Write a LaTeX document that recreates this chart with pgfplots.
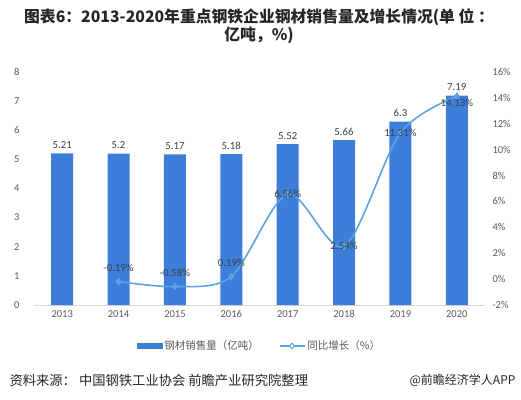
\documentclass[border=0pt]{standalone}
\usepackage{pgfplots}
\pgfplotsset{compat=1.18}
\usepackage{fontspec}
\setmainfont{Carlito}
\newfontfamily\cjk{Noto Sans CJK SC}
\definecolor{barblue}{HTML}{3D7EDB}
\definecolor{lineblue}{HTML}{5BA3E0}
\definecolor{ticktxt}{HTML}{595959}
\definecolor{lbltxt}{HTML}{404040}
\begin{document}
\begin{tikzpicture}[x=1pt,y=1pt]
\useasboundingbox (0,0) rectangle (521,399);
\node[align=center, font=\cjk\bfseries\fontsize{15.8}{18}\selectfont, text=black!85] at (259,373)
 {图表6：2013-2020年重点钢铁企业钢材销售量及增长情况(单 位 ：\\亿吨，\%)};
\node[anchor=west, font=\cjk\fontsize{13.3}{15}\selectfont, text=black!85] at (6,19) {资料来源： 中国钢铁工业协会 前瞻产业研究院整理};
\node[anchor=east, font=\cjk\fontsize{12}{14}\selectfont, text=black!85] at (519,19) {@前瞻经济学人APP};
\begin{axis}[at={(34pt,94pt)}, anchor=south west, scale only axis, width=451pt, height=233pt,
  xmin=-0.5, xmax=7.5, ymin=0, ymax=8, ytick={0,...,8}, xtick={0,...,7},
  xticklabels={2013,2014,2015,2016,2017,2018,2019,2020},
  axis x line*=bottom, axis y line*=left,
  x axis line style={draw=black!15,-}, y axis line style={draw=none},
  major tick length=0pt, tick style={draw=none},
  /pgf/number format/assume math mode=true,
  tick label style={font=\fontsize{10.5}{12}\selectfont, text=ticktxt},
  yticklabel style={xshift=-11pt},
  xticklabel style={yshift=-2pt},
  ]
\addplot[ybar, bar width=22pt, fill=barblue, draw=none,
  nodes near coords, nodes near coords style={font=\fontsize{10.8}{12}\selectfont, text=lbltxt, yshift=1pt}]
  coordinates {(0,5.21) (1,5.2) (2,5.17) (3,5.18) (4,5.52) (5,5.66) (6,6.3) (7,7.19)};
\end{axis}
\begin{axis}[at={(34pt,94pt)}, anchor=south west, scale only axis, width=451pt, height=233pt,
  xmin=-0.5, xmax=7.5, ymin=-2, ymax=16, ytick={-2,0,...,16},
  yticklabel={\pgfmathprintnumber{\tick}\%},
  axis y line*=right, axis x line=none, y axis line style={draw=none},
  major tick length=0pt, tick style={draw=none},
  /pgf/number format/assume math mode=true,
  tick label style={font=\fontsize{10.5}{12}\selectfont, text=ticktxt},
  yticklabel style={xshift=4pt},
  legend style={at={(0.5,-0.135)}, anchor=north, draw=none, fill=none,
    legend columns=2, font=\cjk\fontsize{10.5}{12}\selectfont, text=ticktxt,
    /tikz/every even column/.append style={column sep=18pt}},
  ]
\addlegendimage{legend image code/.code={\fill[barblue] (0pt,-2.5pt) rectangle (25pt,2.5pt);}}
\addlegendentry{钢材销售量（亿吨）}
\addplot[lineblue, line width=1.6pt, smooth, tension=0.5, mark=diamond*, mark size=2.6pt,
  mark options={fill=lineblue, solid},
  legend image code/.code={\draw[lineblue, line width=1.6pt] (0pt,0pt) -- (25pt,0pt);
    \draw[lineblue, line width=1pt, fill=white] (12.5pt,2.8pt) -- (10pt,0pt) -- (12.5pt,-2.8pt) -- (15pt,0pt) -- cycle;}]
  coordinates {(1,-0.19) (2,-0.58) (3,0.19) (4,6.56) (5,2.54) (6,11.31) (7,14.13)};
\addlegendentry{同比增长（\%）}
\addplot[draw=none, point meta=explicit symbolic, nodes near coords={\pgfplotspointmeta\%},
  nodes near coords style={font=\fontsize{10.8}{12}\selectfont, text=lbltxt, anchor=center, yshift=14pt}]
  coordinates {(1,-0.19) [-0.19] (2,-0.58) [-0.58] (3,0.19) [0.19]};
\addplot[draw=none, point meta=explicit symbolic, nodes near coords={\pgfplotspointmeta\%},
  nodes near coords style={font=\fontsize{10.8}{12}\selectfont, text=lbltxt, anchor=center}]
  coordinates {(4,6.56) [6.56] (5,2.54) [2.54] (6,11.31) [11.31]};
\addplot[draw=none, point meta=explicit symbolic, nodes near coords={\pgfplotspointmeta\%},
  nodes near coords style={font=\fontsize{10.8}{12}\selectfont, text=lbltxt, anchor=center, yshift=-7pt}]
  coordinates {(7,14.13) [14.13]};
\end{axis}
\end{tikzpicture}
\end{document}
